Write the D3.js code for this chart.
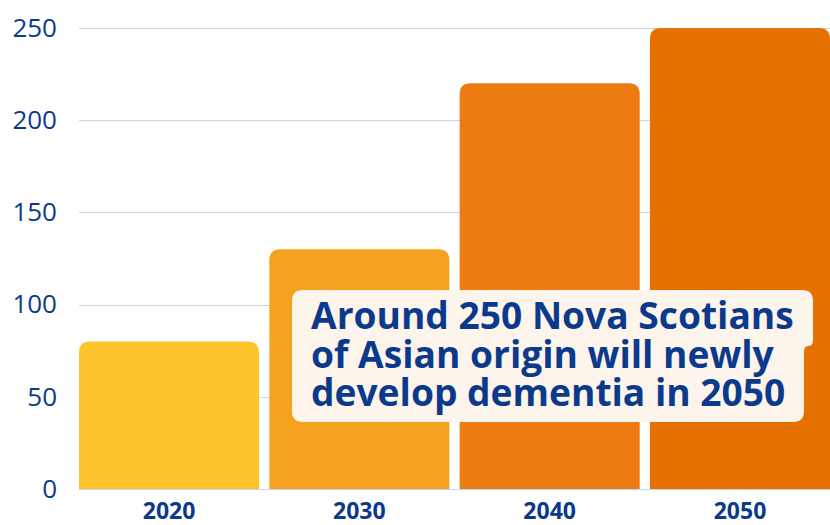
<!DOCTYPE html>
<html>
<head>
<meta charset="utf-8">
<script src="https://cdn.jsdelivr.net/npm/d3@7"></script>
<style>
  html, body { margin: 0; padding: 0; background: #ffffff; }
  svg { display: block; }
  text { font-family: "Open Sans", "Noto Sans", sans-serif; }
</style>
</head>
<body>
<svg id="chart" width="830" height="525"></svg>
<script>
const years = ["2020", "2030", "2040", "2050"];
const newCases = [80, 130, 220, 250];
const yTicks = [0, 50, 100, 150, 200, 250];
const barColors = ["#FDC52B", "#F5A220", "#EE7A12", "#E67100"];
const annotationLines = [
  "Around 250 Nova Scotians",
  "of Asian origin will newly",
  "develop dementia in 2050"
];

const W = 830, H = 525;
const svg = d3.select("#chart");
const textBlue = "#0B3A8C";

const x = d3.scaleBand().domain(years).range([79, 830]).paddingInner(0.054).paddingOuter(0);
const y = d3.scaleLinear().domain([0, 250]).range([489, 28]);

// gridlines
svg.append("g")
  .selectAll("line")
  .data(yTicks)
  .join("line")
  .attr("x1", 79).attr("x2", 830)
  .attr("y1", d => Math.round(y(d)) + 0.5)
  .attr("y2", d => Math.round(y(d)) + 0.5)
  .attr("stroke", "#C9D5EA")
  .attr("stroke-width", 1);

// y axis labels
const yAxis = d3.axisLeft(y).tickValues(yTicks).tickSize(0).tickPadding(0);
const gy = svg.append("g").attr("transform", "translate(57,0)").call(yAxis);
gy.select(".domain").remove();
gy.selectAll("text")
  .attr("fill", textBlue)
  .style("font-size", "26px")
  .style("font-weight", "400")
  .style("font-family", "'Open Sans', sans-serif");

// bars with rounded top corners
function topRounded(x0, y0, w, h, r) {
  r = Math.min(r, w / 2, h);
  return `M${x0},${y0 + h}V${y0 + r}Q${x0},${y0} ${x0 + r},${y0}H${x0 + w - r}Q${x0 + w},${y0} ${x0 + w},${y0 + r}V${y0 + h}Z`;
}
svg.append("g")
  .selectAll("path")
  .data(years.map((yr, i) => ({ yr, v: newCases[i], c: barColors[i] })))
  .join("path")
  .attr("d", d => topRounded(x(d.yr), y(d.v), x.bandwidth(), y(0) - y(d.v), 11))
  .attr("fill", d => d.c);

// x axis labels
const xAxis = d3.axisBottom(x).tickSize(0).tickPadding(0);
const gx = svg.append("g").attr("transform", "translate(0,497)").call(xAxis);
gx.select(".domain").remove();
gx.selectAll("text")
  .attr("fill", textBlue)
  .attr("dy", "0.95em")
  .style("font-size", "23px")
  .style("font-weight", "700")
  .style("font-family", "'Open Sans', sans-serif");

// annotation box
const ann = svg.append("g");
const boxFill = "#FDF4EB";
ann.append("path")
  .attr("d", (() => {
    const l = 292, t = 290, r1 = 813, r2 = 804, mid = 346, b = 422, r = 11;
    return `M${l + r},${t}H${r1 - r}Q${r1},${t} ${r1},${t + r}V${mid - 6}Q${r1},${mid} ${r1 - 5},${mid}` +
      `Q${r2},${mid} ${r2},${mid + 6}V${b - r}Q${r2},${b} ${r2 - r},${b}H${l + r}Q${l},${b} ${l},${b - r}V${t + r}Q${l},${t} ${l + r},${t}Z`;
  })())
  .attr("fill", boxFill);

const annText = ann.append("text")
  .attr("fill", textBlue)
  .style("font-weight", "700")
  .style("font-size", "38px");
annText.selectAll("tspan")
  .data(annotationLines)
  .join("tspan")
  .attr("x", 311)
  .attr("y", (d, i) => 329 + i * 38.5)
  .text(d => d);
// fit first line to reference width
const first = annText.select("tspan").node();
const w0 = first.getComputedTextLength();
const target = 483;
if (w0 > 0) {
  const fs = Math.min(40, 38 * target / w0);
  annText.style("font-size", fs + "px");
}
</script>
</body>
</html>
